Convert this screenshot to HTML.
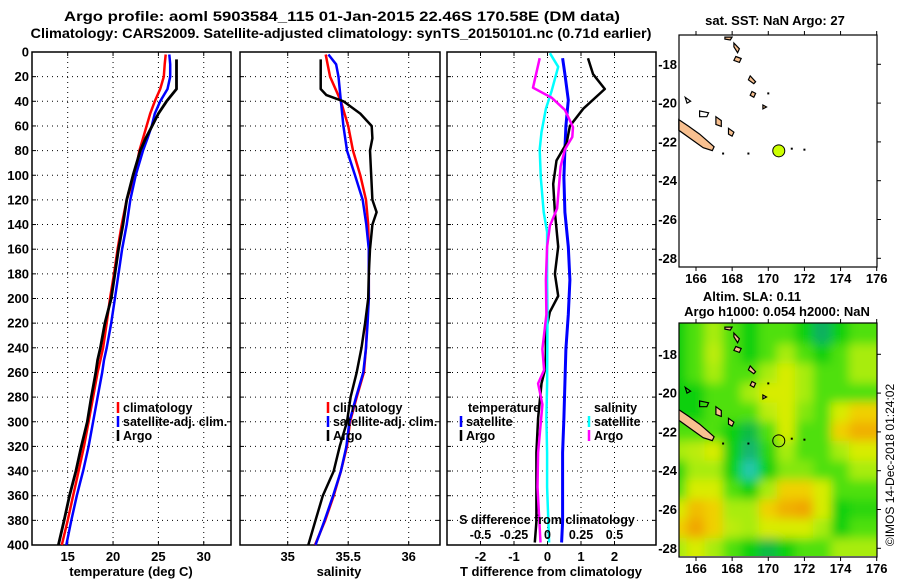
<!DOCTYPE html>
<html><head><meta charset="utf-8"><style>
html,body{margin:0;padding:0;background:#fff;width:900px;height:580px;overflow:hidden}
svg{display:block;font-family:"Liberation Sans",sans-serif;font-weight:bold}
</style></head><body>
<svg id="chart" width="900" height="580" viewBox="0 0 900 580">
<defs>
<filter id="blur" x="-5%" y="-5%" width="110%" height="110%"><feGaussianBlur stdDeviation="5"/></filter>
<clipPath id="mapclip"><rect x="679" y="323" width="198" height="233"/></clipPath>
</defs>
<text x="342" y="21" text-anchor="middle" font-size="14" textLength="556" lengthAdjust="spacingAndGlyphs">Argo profile: aoml 5903584_115 01-Jan-2015 22.46S 170.58E (DM data)</text>
<text x="341" y="38" text-anchor="middle" font-size="14" textLength="621" lengthAdjust="spacingAndGlyphs">Climatology: CARS2009. Satellite-adjusted climatology: synTS_20150101.nc (0.71d earlier)</text>
</svg>
<script>
// ---------- data ----------
const tDepth = [2,10,20,30,40,50,60,70,80,100,120,140,160,180,200,220,240,250,260,280,300,320,340,350,360,380,400];
const tClim  = [25.8,25.7,25.6,25.2,24.6,24.1,23.7,23.3,22.9,22.4,21.5,20.95,20.5,20.1,19.66,19.3,18.9,18.6,18.3,17.8,17.3,16.8,16.2,15.9,15.6,15.0,14.35];
const tSat   = [26.2,26.3,26.3,26.0,25.2,24.6,24.26,23.8,23.3,22.5,21.9,21.5,21.0,20.6,20.2,19.8,19.3,19.0,18.8,18.3,17.8,17.3,16.7,16.35,16.0,15.4,14.85];
const tArgoDepth = [6,10,20,30,40,50,60,70,80,100,120,140,160,180,200,220,240,250,260,280,300,320,340,350,360,380,400];
const tArgo  = [27.0,27.0,27.0,27.0,25.9,25.0,24.3,23.6,23.0,22.2,21.5,21.1,20.6,20.2,19.8,19.1,18.6,18.3,18.1,17.6,17.16,16.5,15.9,15.55,15.2,14.6,13.97];

const sDepth = [2,10,20,40,60,80,100,120,140,160,180,200,220,240,260,280,300,320,340,360,380,400];
const sClim  = [35.314,35.33,35.35,35.44,35.50,35.54,35.60,35.647,35.665,35.67,35.67,35.67,35.655,35.647,35.63,35.57,35.515,35.49,35.44,35.38,35.31,35.226];
const sSat   = [35.336,35.40,35.42,35.44,35.46,35.49,35.556,35.62,35.65,35.67,35.67,35.67,35.66,35.647,35.625,35.565,35.51,35.485,35.44,35.375,35.305,35.23];
const sArgoDepth = [6,30,35,40,50,60,70,80,100,120,130,140,160,180,200,220,240,260,280,300,320,340,360,380,400];
const sArgo  = [35.273,35.273,35.32,35.46,35.60,35.694,35.70,35.68,35.69,35.70,35.735,35.70,35.68,35.67,35.665,35.64,35.61,35.57,35.52,35.49,35.43,35.38,35.29,35.23,35.17];

const dTSatDepth  = [5,18,39,60,79,102,130,158,185,213,241,269,297,325,353,381,398];
const dTSat       = [0.45,0.52,0.62,0.55,0.52,0.49,0.52,0.62,0.67,0.62,0.55,0.52,0.49,0.45,0.45,0.45,0.42];
const dTArgoDepth = [5,18,30,46,60,74,88,107,130,158,180,198,211,227,255,269,297,325,353,381,398];
const dTArgo      = [1.21,1.36,1.71,1.07,0.67,0.57,0.27,0.17,0.22,0.32,0.22,0.32,0.07,-0.05,-0.05,-0.18,-0.28,-0.33,-0.33,-0.33,-0.38];
const dSSatDepth  = [1,12,32,46,65,79,102,130,146,185,213,269,297,325,353,398];
const dSSat       = [0.018,0.08,0.03,-0.012,-0.045,-0.058,-0.05,-0.028,-0.003,-0.003,0.0,-0.003,-0.008,-0.003,-0.003,0.012];
const dSArgoDepth = [5,29,37,47,61,69,79,93,127,141,158,185,213,241,258,269,286,325,353,398];
const dSArgo      = [-0.058,-0.108,0.03,0.13,0.19,0.185,0.13,0.098,0.072,0.018,-0.003,-0.012,-0.008,-0.038,-0.025,-0.07,-0.038,-0.07,-0.075,-0.052];

const depthTicks = [0,20,40,60,80,100,120,140,160,180,200,220,240,260,280,300,320,340,360,380,400];
const tTicks = [15,20,25,30];
const sTicks = [35,35.5,36];
const dTTicks = [-2,-1,0,1,2];
const dSTicks = [-0.5,-0.25,0,0.25,0.5];
const lonTicks = [166,168,170,172,174,176];
const latTicks = [-18,-20,-22,-24,-26,-28];
const argoLon = 170.58, argoLat = -22.46;

// SLA field (rows lat), 0=teal .. 4=orange
const slaLats = [-16.5,-17,-18,-19,-20,-21,-22,-23,-24,-25,-26,-27,-28,-28.5];
const slaLons = [165,166,167,168,169,170,171,172,173,174,175,176];
const slaGrid = [
 [1,1.5,2,1.5,1,1.5,1.5,1,0.7,1,1.5,1.5],
 [1,1.5,2,1.5,1,1.5,1.5,1,0.7,1,1.5,1.5],
 [1,1.5,2.2,1.5,1,1.5,2,1.5,1,1.5,2,2],
 [1,1.5,2,1.5,1.5,2,2.5,2,1.5,1.5,2,2],
 [1,1,1.5,1.5,2,2.5,2.5,2,1.5,1.5,1.5,1.5],
 [1,1,1.5,1.5,1.5,2.2,2.5,1.8,1.5,2.5,3,3],
 [1.5,1.5,1.5,1,0.8,1.5,2.5,1.5,1.5,3,3.5,3.5],
 [2,2.2,2.5,1,0.6,1.2,2,1.5,1.5,2,2.5,2.5],
 [1.2,2,2,1,0.2,1,1.8,1.8,1.5,1.5,2,2],
 [1.5,2.5,2.5,1.5,1,2,3,3,2.5,1.5,1.5,1.5],
 [2.5,3.3,3,2,2,3,3.5,3.8,2.5,1,1.2,1.2],
 [3,3.8,3,2.2,2,2.5,2.5,2.5,2,1,1.5,1.5],
 [2,2.5,2,1.5,1,0.8,1,1.5,1.5,2,2,2],
 [2,2.5,2,1.5,1,0.8,1,1.5,1.5,2,2,2]
];

// ---------- helpers ----------
const svg = document.getElementById('chart');
const NS = 'http://www.w3.org/2000/svg';
function mk(tag, attrs, parent){ const e=document.createElementNS(NS,tag); for(const k in attrs) e.setAttribute(k,attrs[k]); (parent||svg).appendChild(e); return e; }
function txt(x,y,s,size,anchor,parent){ const e=mk('text',{x:x,y:y,'font-size':size,'text-anchor':anchor||'middle'},parent); e.textContent=s; return e; }

const top0=52, bot0=545;
const yD = d => top0 + d*(bot0-top0)/400;
const xT = t => 67.7 + (t-15)*9.07;
const xS = s => 287.7 + (s-35)*121;
const xDT = v => 547.5 + v*33.5;
const xDS = v => xDT(v*4);

const panels = [
 {name:'temperature-panel', x0:32, x1:231, ticks:tTicks, fx:xT, label:'temperature (deg C)', lx:131},
 {name:'salinity-panel', x0:240, x1:440, ticks:sTicks, fx:xS, label:'salinity', lx:339},
 {name:'difference-panel', x0:447, x1:656, ticks:dTTicks, fx:xDT, label:'T difference from climatology', lx:551}
];
panels.forEach((p,i)=>{
  const g = mk('g',{});
  
  
  depthTicks.forEach(d=>{
    if(d>0 && d<400){ const l=mk('line',{x1:p.x0,x2:p.x1,y1:yD(d),y2:yD(d),stroke:'#000','stroke-width':1,'stroke-dasharray':'1,4'},g);
        }
    mk('line',{x1:p.x0,x2:p.x0+4,y1:yD(d),y2:yD(d),stroke:'#000'},g);
    mk('line',{x1:p.x1,x2:p.x1-4,y1:yD(d),y2:yD(d),stroke:'#000'},g);
  });
  p.ticks.forEach(t=>{
    const x=p.fx(t);
    const l=mk('line',{x1:x,x2:x,y1:top0,y2:bot0,stroke:'#000','stroke-width':1,'stroke-dasharray':'1,4'},g);
     
    mk('line',{x1:x,x2:x,y1:bot0,y2:bot0-4,stroke:'#000'},g);
    mk('line',{x1:x,x2:x,y1:top0,y2:top0+4,stroke:'#000'},g);
    const tl=txt(x,561,String(t),13,'middle',g);
     
  });
  const xl=txt(p.lx,576,p.label,13,'middle',g);
   
  mk('rect',{x:p.x0,y:top0,width:p.x1-p.x0,height:bot0-top0,fill:'none',stroke:'#000','stroke-width':1.5},g);
});
depthTicks.forEach(d=>{
  const t=txt(29,yD(d)+4.5,String(d),13,'end');
   
});

function series(depths, vals, fx, color, w, name){
  const pts = depths.map((d,i)=>fx(vals[i]).toFixed(1)+','+yD(d).toFixed(1)).join(' ');
  const pl = mk('polyline',{points:pts,fill:'none',stroke:color,'stroke-width':w,'stroke-linejoin':'round'});
  
  
}
series(tDepth,tClim,xT,'#ff0000',2.5,'temperature-climatology-line');
series(tDepth,tSat,xT,'#0000ff',2.5,'temperature-satellite-line');
series(tArgoDepth,tArgo,xT,'#000000',2.8,'temperature-argo-line');
series(sDepth,sClim,xS,'#ff0000',2.5,'salinity-climatology-line');
series(sDepth,sSat,xS,'#0000ff',2.5,'salinity-satellite-line');
series(sArgoDepth,sArgo,xS,'#000000',2.5,'salinity-argo-line');
series(dTSatDepth,dTSat,xDT,'#0000ff',3,'t-diff-satellite-line');
series(dTArgoDepth,dTArgo,xDT,'#000000',2.5,'t-diff-argo-line');
series(dSSatDepth,dSSat,xDS,'#00ffff',2.5,'s-diff-satellite-line');
series(dSArgoDepth,dSArgo,xDS,'#ff00ff',2.5,'s-diff-argo-line');

// legends
function legend(x,y,color,label){
  const g=mk('g',{});
  
  
  mk('line',{x1:x,x2:x,y1:y-10,y2:y+1,stroke:color,'stroke-width':2.5},g);
  txt(x+5,y,label,12.5,'start',g);
}
[[118,'#ff0000','climatology'],[118,'#0000ff','satellite-adj. clim.'],[118,'#000000','Argo']].forEach((e,i)=>legend(e[0],412+i*14,e[1],e[2]));
[[328,'#ff0000','climatology'],[328,'#0000ff','satellite-adj. clim.'],[328,'#000000','Argo']].forEach((e,i)=>legend(e[0],412+i*14,e[1],e[2]));
const lh1=txt(468,412,'temperature',12.5,'start');  
const lh2=txt(594,412,'salinity',12.5,'start');  
legend(461,426,'#0000ff','satellite'); legend(461,440,'#000000','Argo');
legend(589,426,'#00ffff','satellite'); legend(589,440,'#ff00ff','Argo');
const sdl=txt(547,524,'S difference from climatology',12.5,'middle');  
dSTicks.forEach(v=>{ const t=txt(xDS(v),539,String(v),12.5,'middle');   });

// ---------- maps ----------
const mx0=679, mx1=877;
const xLon = l => 696 + (l-166)*18.07;
function drawIslands(g, yLat){
  const isl = [
    [[165.05,-20.85],[165.6,-21.2],[166.2,-21.6],[166.7,-22.0],[167.0,-22.25],[166.9,-22.45],[166.4,-22.3],[165.8,-21.9],[165.05,-21.4]],
    [[167.6,-16.6],[168.0,-16.6],[167.9,-16.75],[167.6,-16.7]],
    [[168.1,-16.9],[168.4,-17.2],[168.3,-17.4],[168.1,-17.1]],
    [[168.2,-17.6],[168.5,-17.7],[168.4,-17.9],[168.1,-17.8]],
    [[169.0,-18.6],[169.3,-18.9],[169.2,-19.0],[168.9,-18.8]],
    [[169.1,-19.4],[169.3,-19.5],[169.2,-19.7],[169.0,-19.6]],
    [[169.7,-20.1],[169.9,-20.2],[169.7,-20.3]],
    [[167.1,-20.7],[167.4,-20.9],[167.4,-21.2],[167.1,-21.1]],
    [[167.8,-21.3],[168.1,-21.5],[168.0,-21.7],[167.8,-21.6]],
    [[166.2,-20.4],[166.7,-20.5],[166.6,-20.7],[166.2,-20.7]],
    [[165.4,-19.7],[165.7,-19.9],[165.5,-20.0]]
  ];
  isl.forEach((poly,i)=>{
    const p=mk('polygon',{points:poly.map(q=>xLon(q[0]).toFixed(1)+','+yLat(q[1]).toFixed(1)).join(' '),fill:(i==9||i==10)?'none':'#f8c090',stroke:'#000','stroke-width':1.2},g);
     
  });
  [[167.5,-22.6],[168.9,-22.6],[171.3,-22.35],[172.0,-22.4],[170.0,-19.5]].forEach(q=>mk('rect',{x:xLon(q[0])-1,y:yLat(q[1])-1,width:2,height:2,fill:'#000'},g));
}
function mapFrame(g,my0,my1,yLat){
  mk('rect',{x:mx0,y:my0,width:mx1-mx0,height:my1-my0,fill:'none',stroke:'#000','stroke-width':1.2},g);
  lonTicks.forEach(l=>{ const x=xLon(l);
    mk('line',{x1:x,x2:x,y1:my1,y2:my1+4,stroke:'#000'},g); mk('line',{x1:x,x2:x,y1:my0,y2:my0-4,stroke:'#000'},g);
    const t=txt(x,my1+16,String(l),13,'middle',g);   });
  latTicks.forEach(l=>{ const y=yLat(l);
    mk('line',{x1:mx1,x2:mx1+4,y1:y,y2:y,stroke:'#000'},g);
    const t=txt(677,y+4.5,String(l),13,'end',g);   });
}
// SST map
const yLat1 = l => 64.3 + (-18-l)*19.4;
const g1 = mk('g',{});


txt(775,25,'sat. SST: NaN Argo: 27',13,'middle',g1);
drawIslands(g1,yLat1);
const dot = mk('circle',{cx:xLon(argoLon),cy:yLat1(argoLat),r:6,fill:'#ccff00',stroke:'#000','stroke-width':1},g1);
 
mapFrame(g1,35,267,yLat1);

// SLA map
const yLat2 = l => 354.3 + (-18-l)*19.4;
const g2 = mk('g',{});


txt(752,301,'Altim. SLA: 0.11',13,'middle',g2);
txt(777,316,'Argo h1000: 0.054 h2000: NaN',13,'middle',g2);
function slaColor(v){
  const stops=[[0,[40,210,200]],[0.7,[16,176,96]],[1,[16,208,16]],[1.5,[80,224,16]],[2,[168,236,16]],[2.5,[216,236,0]],[3,[240,208,0]],[3.5,[240,176,0]],[4,[240,160,0]]];
  for(let i=1;i<stops.length;i++){ if(v<=stops[i][0]){ const a=stops[i-1],b=stops[i],f=(v-a[0])/(b[0]-a[0]);
    return 'rgb('+a[1].map((c,k)=>Math.round(c+(b[1][k]-c)*f)).join(',')+')'; } }
  return 'rgb(240,160,0)';
}
const clipG = mk('g',{'clip-path':'url(#mapclip)'},g2);
mk('rect',{x:mx0,y:323,width:198,height:233,fill:slaColor(1)},clipG);
const heat = mk('g',{filter:'url(#blur)'},clipG);


slaLats.forEach((lat,r)=>{
  slaLons.forEach((lon,c)=>{
    const cell=mk('rect',{x:(xLon(lon)-9.5).toFixed(1),y:(yLat2(lat)-10.2).toFixed(1),width:19.5,height:20.5,fill:slaColor(slaGrid[r][c])},heat);
    
    
  });
});
drawIslands(clipG,yLat2);
const ring = mk('circle',{cx:xLon(argoLon),cy:yLat2(argoLat),r:6,fill:'none',stroke:'#000','stroke-width':1},g2);
 
mapFrame(g2,323,557,yLat2);

const cr = txt(0,0,'©IMOS 14-Dec-2018 01:24:02',12,'middle');
cr.setAttribute('transform','translate(894,465) rotate(-90)');
cr.setAttribute('font-weight','normal');


</script>
</body></html>
